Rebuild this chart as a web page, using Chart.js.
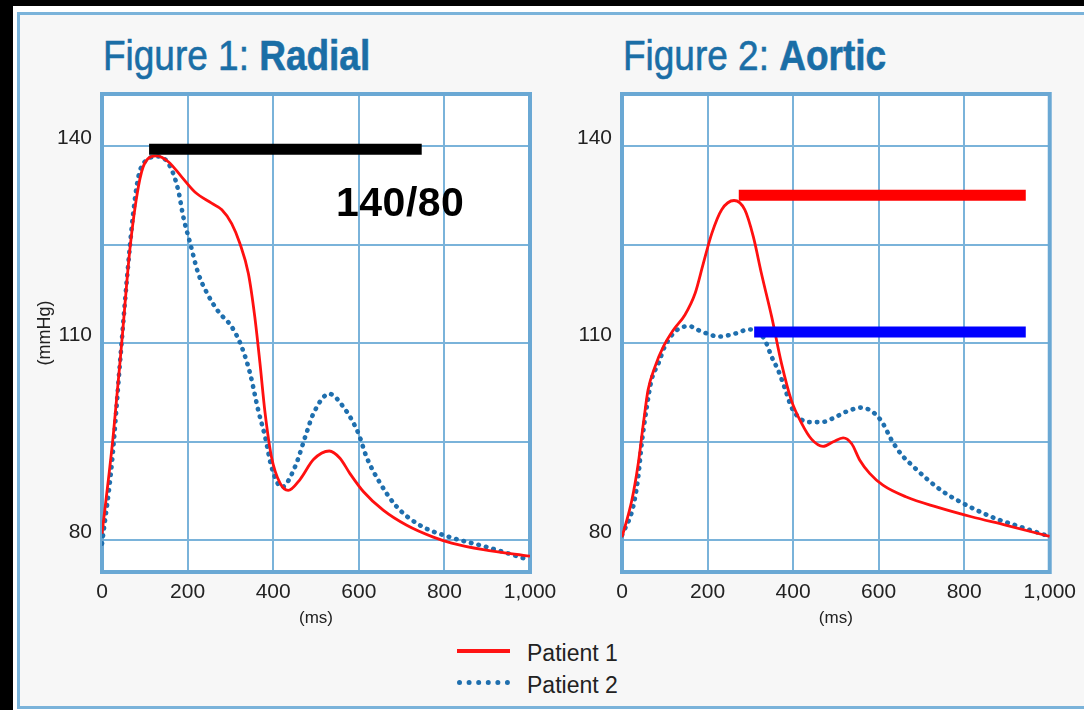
<!DOCTYPE html>
<html>
<head>
<meta charset="utf-8">
<script src="https://cdn.jsdelivr.net/npm/chart.js@4.4.1/dist/chart.umd.min.js"></script>
<style>
  body { margin: 0; background: #000; width: 1084px; height: 710px; overflow: hidden; position: relative;
         font-family: "Liberation Sans", Arial, Helvetica, sans-serif; }
  #edge { position: absolute; left: 13px; top: 6px; width: 1100px; height: 720px; background: #fff; }
  #panel { position: absolute; left: 17px; top: 12px; width: 1100px; height: 697px; box-sizing: border-box;
           border: 3px solid #7ab3da; background: #f7f7f7; }
  .title { position: absolute; top: 34px; font-size: 43px; line-height: 43px; color: #1a6ea6;
           transform: scaleX(0.86); transform-origin: 0 0; white-space: nowrap; -webkit-text-stroke: 0.6px #1a6ea6; }
  .title b { font-weight: bold; }
  canvas { position: absolute; top: 0; }
  #stamp { position: absolute; left: 336px; top: 182px; font-size: 41px; line-height: 41px; font-weight: bold; color: #000;
           letter-spacing: 0.5px; }
  .swatch { position: absolute; left: 457px; width: 53px; }
  .key { position: absolute; left: 527px; font-size: 23px; line-height: 23px; color: #222; }
</style>
</head>
<body>
<div id="edge"></div>
<div id="panel"></div>
<div class="title" style="left:103px">Figure 1: <b>Radial</b></div>
<div class="title" style="left:623px">Figure 2: <b>Aortic</b></div>
<canvas id="radial" width="570" height="632" style="left:0"></canvas>
<canvas id="aortic" width="564" height="632" style="left:520px"></canvas>
<div id="stamp">140/80</div>
<div class="swatch" style="top:649px;height:4px;background:#ff1414"></div>
<div class="swatch" style="top:680px;height:0;border-top:5px dotted #1f6fae"></div>
<div class="key" style="top:642px">Patient 1</div>
<div class="key" style="top:674px">Patient 2</div>
<script>
// axis setup
const xTicks = [0, 200, 400, 600, 800, 1000];
const yGrid = [80, 95, 110, 125, 140];
const yLabels = [80, 110, 140];

// Figure 1: radial pressure (ms, mmHg)
const radialP1Time = [0, 26, 46, 65, 85, 100, 128, 155, 186, 217, 256, 280, 303, 322, 342, 357, 369, 381, 396, 416, 435, 463, 494, 531, 556, 579, 611, 657, 712, 774, 817, 891, 1000];
const radialP1 = [81, 95.8, 110, 124.2, 133.8, 137.4, 138.5, 137.6, 135.3, 133.0, 131.3, 130.3, 128.2, 125.2, 120.6, 114.0, 107.0, 99.4, 92.7, 88.7, 87.6, 89.3, 92.3, 93.6, 92.5, 90.2, 87.4, 84.6, 82.3, 80.5, 79.6, 78.6, 77.6];
const radialP2Time = [0, 23, 42, 58, 73, 85, 100, 132, 159, 178, 190, 206, 225, 248, 272, 303, 326, 346, 365, 381, 396, 420, 451, 475, 494, 531, 564, 599, 618, 650, 689, 743, 813, 899, 1000];
const radialP2 = [79.5, 91.7, 107, 119.6, 129.8, 135.3, 137.6, 138.4, 136.9, 133.3, 129.2, 125.2, 120.6, 117.3, 114.8, 112.5, 109.5, 105.4, 99.8, 95.8, 91.2, 88.1, 91.2, 95.8, 99.3, 102.3, 100.3, 96.3, 92.7, 88.7, 85.1, 82.3, 80.5, 79.0, 77.0];

// Figure 2: aortic pressure (ms, mmHg)
const aorticP1Time = [0, 23, 38, 50, 61, 77, 97, 120, 147, 171, 190, 210, 233, 262, 287, 307, 326, 350, 373, 396, 420, 443, 470, 494, 517, 537, 556, 579, 610, 665, 735, 817, 899, 1000];
const aorticP1 = [80.5, 86.1, 91.7, 97.8, 102.9, 106.4, 109.5, 112, 114.3, 117.6, 122.1, 126.7, 130.3, 131.7, 130.3, 126.2, 120.6, 114, 106.9, 101.3, 97.8, 95.4, 94.3, 95.0, 95.6, 94.7, 92.2, 90.2, 88.4, 86.6, 85.1, 83.6, 82.3, 80.6];
const aorticP2Time = [0, 26, 38, 46, 58, 69, 85, 100, 120, 136, 157, 178, 202, 225, 248, 272, 295, 318, 334, 350, 365, 381, 396, 412, 435, 467, 494, 525, 560, 591, 610, 630, 654, 677, 712, 751, 790, 829, 875, 930, 1000];
const aorticP2 = [80.8, 85.1, 89.7, 94.7, 100.3, 104.4, 106.9, 109.5, 111.5, 112.3, 112.6, 112.0, 111.4, 111.0, 111.2, 111.6, 112.1, 111.7, 110.5, 107.9, 105.9, 103.1, 100.3, 98.8, 98.0, 98.0, 98.6, 99.6, 100.2, 99.3, 97.8, 95.3, 93.0, 91.5, 89.4, 87.4, 85.9, 84.6, 83.3, 82.1, 80.6];

// highlight bars: [start ms, end ms], level mmHg
const radialBarSpan = [110, 747], radialBarLevel = 139.5;
const aorticRedSpan = [273, 944], aorticRedLevel = 132.5;
const aorticBlueSpan = [309, 944], aorticBlueLevel = 111.7;

const FONT = '"Liberation Sans", Arial, Helvetica, sans-serif';
const GRID = '#7ab3da';

function pts(xs, ys) { return xs.map((x, i) => ({x: x, y: ys[i]})); }

function bar(span, level, color) {
  return { data: [{x: span[0], y: level}, {x: span[1], y: level}], borderColor: color, borderWidth: 11,
           borderCapStyle: 'butt', pointRadius: 0, tension: 0 };
}

function patient1(data) {
  return { data: data, borderColor: '#ff1010', borderWidth: 2.8, pointRadius: 0, cubicInterpolationMode: 'monotone' };
}

function patient2(data) {
  return { data: data, borderColor: '#1f6fae', borderWidth: 4.6, borderDash: [0.5, 7.2], borderCapStyle: 'round',
           pointRadius: 0, cubicInterpolationMode: 'monotone' };
}

// white plot area plus the heavy blue frame round it
const plotFrame = {
  id: 'plotFrame',
  beforeDraw(chart) {
    const {ctx, chartArea: a} = chart;
    ctx.save();
    ctx.fillStyle = '#fff';
    ctx.fillRect(a.left, a.top, a.right - a.left, a.bottom - a.top);
    ctx.restore();
  },
  beforeDatasetsDraw(chart) {
    const {ctx, chartArea: a} = chart;
    ctx.save();
    ctx.strokeStyle = '#6aa8d4';
    ctx.lineWidth = 4;
    ctx.strokeRect(a.left, a.top, a.right - a.left, a.bottom - a.top);
    ctx.restore();
  }
};

function makeChart(id, datasets, rightPad, yTitle) {
  return new Chart(document.getElementById(id), {
    type: 'line',
    data: { datasets: datasets },
    options: {
      responsive: false,
      animation: false,
      layout: { padding: { top: 94, right: rightPad, bottom: 0, left: 0 } },
      plugins: { legend: { display: false }, tooltip: { enabled: false } },
      scales: {
        x: {
          type: 'linear', min: 0, max: 1000,
          afterBuildTicks: s => { s.ticks = xTicks.map(v => ({value: v})); },
          afterFit: s => { s.height = 60; },
          ticks: { padding: 8, color: '#222', font: { size: 21, family: FONT }, maxRotation: 0, autoSkip: false,
                   callback: v => v.toLocaleString('en-US') },
          grid: { color: GRID, lineWidth: 2, drawTicks: false },
          border: { display: false },
          title: { display: true, text: '(ms)', color: '#222', font: { size: 17, family: FONT }, padding: { top: 0, bottom: 3 } }
        },
        y: {
          type: 'linear', min: 75.2, max: 147.9,
          afterBuildTicks: s => { s.ticks = yGrid.map(v => ({value: v})); },
          afterFit: s => { s.width = 102; },
          ticks: { padding: 10, labelOffset: -8, color: '#222', font: { size: 21, family: FONT }, autoSkip: false,
                   callback: v => yLabels.includes(v) ? v : '' },
          grid: { color: GRID, lineWidth: 2, drawTicks: false },
          border: { display: false },
          title: { display: !!yTitle, text: yTitle || '', color: '#222', font: { size: 18, family: FONT }, padding: { top: 34, bottom: 0 } }
        }
      }
    },
    plugins: [plotFrame]
  });
}

makeChart('radial', [
  bar(radialBarSpan, radialBarLevel, '#000'),
  patient1(pts(radialP1Time, radialP1)),
  patient2(pts(radialP2Time, radialP2))
], 40, '(mmHg)');

makeChart('aortic', [
  bar(aorticRedSpan, aorticRedLevel, '#ff0000'),
  bar(aorticBlueSpan, aorticBlueLevel, '#0000ff'),
  patient1(pts(aorticP1Time, aorticP1)),
  patient2(pts(aorticP2Time, aorticP2))
], 34, '');
</script>
</body>
</html>
